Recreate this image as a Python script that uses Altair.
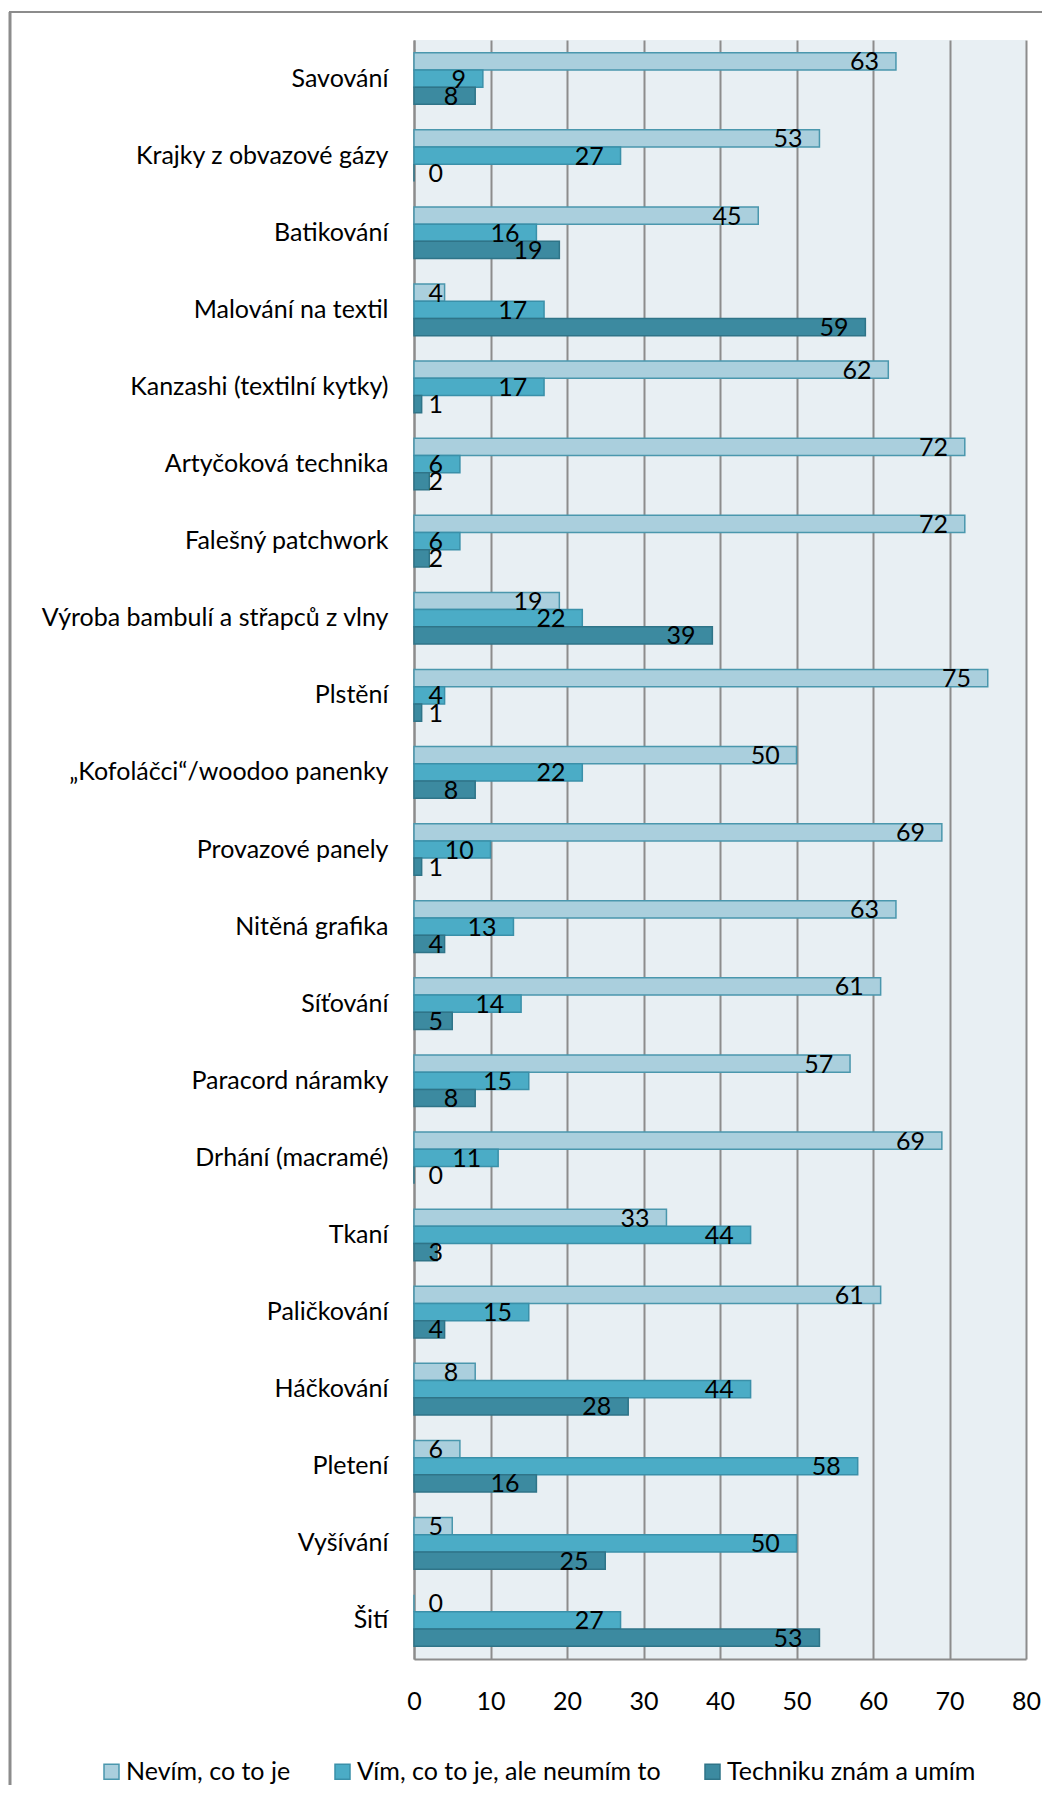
import altair as alt
import pandas as pd

categories = [
    "Savování",
    "Krajky z obvazové gázy",
    "Batikování\u00a0",
    "Malování na textil",
    "Kanzashi (textilní kytky)",
    "Artyčoková technika",
    "Falešný patchwork",
    "Výroba bambulí a střapců z vlny\u00a0",
    "Plstění",
    "„Kofoláčci“/woodoo panenky",
    "Provazové panely",
    "Nitěná grafika",
    "Síťování",
    "Paracord náramky",
    "Drhání (macramé)",
    "Tkaní\u00a0",
    "Paličkování\u00a0",
    "Háčkování\u00a0",
    "Pletení",
    "Vyšívání\u00a0",
    "Šití",
]
series = ["Nevím, co to je", "Vím, co to je, ale neumím to", "Techniku znám a umím"]
nevim = [63, 53, 45, 4, 62, 72, 72, 19, 75, 50, 69, 63, 61, 57, 69, 33, 61, 8, 6, 5, 0]
vim = [9, 27, 16, 17, 17, 6, 6, 22, 4, 22, 10, 13, 14, 15, 11, 44, 15, 44, 58, 50, 27]
umim = [8, 0, 19, 59, 1, 2, 2, 39, 1, 8, 1, 4, 5, 8, 0, 3, 4, 28, 16, 25, 53]
x_ticks = [0, 10, 20, 30, 40, 50, 60, 70, 80]

fills = ["#AACFDD", "#4BACC6", "#3C8AA0"]
strokes = ["#4A97AD", "#3A90A9", "#2F7488"]

rows = []
for i, c in enumerate(categories):
    for s, vals in zip(series, [nevim, vim, umim]):
        rows.append({"cat": c, "series": s, "value": vals[i]})
df = pd.DataFrame(rows)

FONT = "Lato"
FS = 25

y_enc = alt.Y(
    "cat:N",
    sort=categories,
    scale=alt.Scale(paddingInner=0.33, paddingOuter=0.165),
    axis=alt.Axis(
        title=None,
        ticks=False,
        domain=True,
        domainColor="#8C8C8C",
        domainWidth=2,
        labelPadding=26,
        labelFontSize=FS,
        labelFont=FONT,
        labelColor="#000000",
        labelLimit=0,
    ),
)
yoff = alt.YOffset("series:N", sort=series, scale=alt.Scale(paddingInner=0, paddingOuter=0))

x_scale = alt.Scale(domain=[0, 80], nice=False)


def make_legend():
    return alt.Legend(
        title=None,
        orient="none",
        legendX=-315,
        legendY=1719,
        direction="horizontal",
        columns=3,
        columnPadding=39,
        symbolType="square",
        symbolSize=225,
        symbolStrokeWidth=1.5,
        labelFontSize=FS,
        labelFont=FONT,
        labelColor="#000000",
        labelOffset=2,
        padding=0,
        labelLimit=0,
    )


bars = alt.Chart(df).mark_bar(strokeWidth=1.5).encode(
    x=alt.X(
        "value:Q",
        scale=x_scale,
        axis=alt.Axis(
            title=None,
            values=x_ticks,
            grid=True,
            gridColor="#8C8C8C",
            gridWidth=2,
            ticks=False,
            domain=True,
            domainColor="#8C8C8C",
            domainWidth=2,
            labelFontSize=FS,
            labelFont=FONT,
            labelColor="#000000",
            labelPadding=30,
            labelFlush=False,
        ),
    ),
    y=y_enc,
    yOffset=yoff,
    fill=alt.Fill(
        "series:N",
        sort=series,
        scale=alt.Scale(domain=series, range=fills),
        legend=make_legend(),
    ),
    stroke=alt.Stroke(
        "series:N",
        sort=series,
        scale=alt.Scale(domain=series, range=strokes),
        legend=make_legend(),
    ),
)

labels = alt.Chart(df).transform_calculate(
    pos="max(datum.value - 2.2, 3.8)"
).mark_text(align="right", baseline="middle", fontSize=FS, font=FONT, color="#000000", dy=1).encode(
    x=alt.X("pos:Q", scale=x_scale),
    y=alt.Y("cat:N", sort=categories),
    yOffset=alt.YOffset("series:N", sort=series),
    text="value:Q",
)

frame_left = alt.Chart(pd.DataFrame({"a": [0]})).mark_rule(color="#8C8C8C", strokeWidth=3).encode(
    x=alt.value(-404), y=alt.value(-28), y2=alt.value(1745)
)
frame_top = alt.Chart(pd.DataFrame({"a": [0]})).mark_rule(color="#8C8C8C", strokeWidth=2).encode(
    x=alt.value(-405), x2=alt.value(628), y=alt.value(-28)
)

chart = alt.layer(bars, labels, frame_left, frame_top).properties(
    width=612,
    height=1619,
    padding={"left": 0, "top": 2, "right": 0, "bottom": 0},
    background="#FFFFFF",
).configure_view(fill="#E8EFF3", stroke=None)

chart.save("out.html", embed_options={"renderer": "svg", "actions": False})
